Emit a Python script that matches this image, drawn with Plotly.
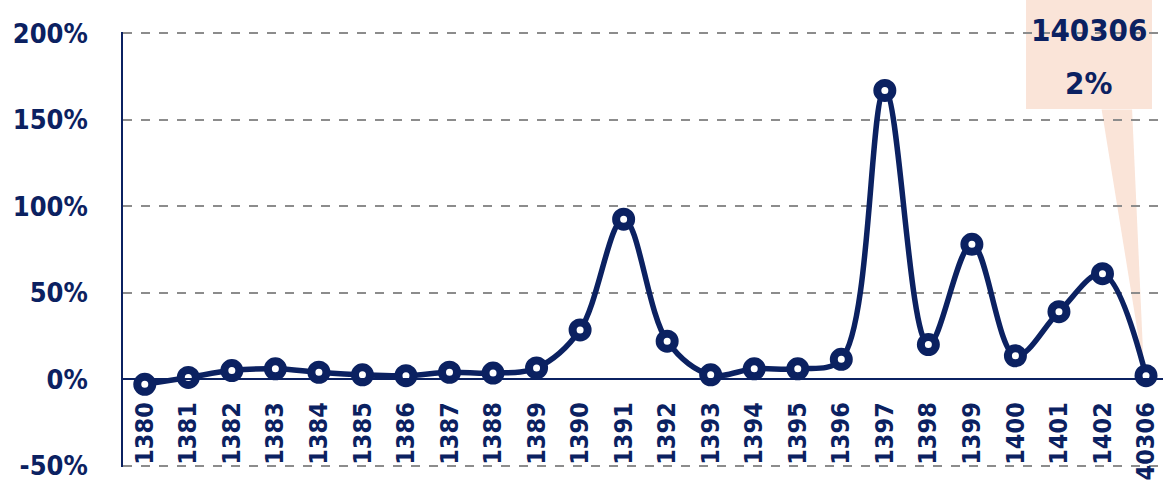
import plotly.graph_objects as go

categories = ["1380", "1381", "1382", "1383", "1384", "1385", "1386", "1387", "1388", "1389",
              "1390", "1391", "1392", "1393", "1394", "1395", "1396", "1397", "1398", "1399",
              "1400", "1401", "1402", "140306"]
values = [-3, 1, 5, 6, 4, 2.5, 2, 4, 3.5, 6.5,
          28.5, 92.5, 22, 2.5, 6, 6, 11.5, 167, 20, 78,
          13.5, 39, 61, 2]
y_ticks = [-50, 0, 50, 100, 150, 200]
y_tick_labels = ["-50%", "0%", "50%", "100%", "150%", "200%"]
callout_label = "140306"
callout_value = "2%"

NAVY = "#0b2161"
PEACH = "#fae4d8"
FONT = "DejaVu Sans Condensed, Liberation Sans Narrow, sans-serif"

x_idx = list(range(len(categories)))

fig = go.Figure()
fig.add_trace(go.Scatter(
    x=x_idx, y=values, mode="lines+markers",
    line=dict(color=NAVY, width=5.5, shape="spline", smoothing=1),
    marker=dict(size=15, color="white", line=dict(color=NAVY, width=8)),
    cliponaxis=False, showlegend=False,
))

last = len(categories) - 1
# callout pointer (triangle from box bottom to last point)
fig.add_shape(type="path", xref="x", yref="y", layer="below",
              path=f"M {last-1.02},156 L {last-0.32},156 L {last-0.05},{values[-1]+3} Z",
              fillcolor=PEACH, line=dict(width=0))
# callout box
fig.add_shape(type="rect", xref="paper", yref="paper", layer="below",
              x0=0.8683, x1=0.9894, y0=0.8230, y1=1.08,
              fillcolor=PEACH, line=dict(width=0))
fig.add_annotation(
    xref="paper", yref="paper", x=0.9288, y=1.0046, xanchor="center", yanchor="middle",
    text=f"<b>{callout_label}</b>", showarrow=False,
    font=dict(family=FONT, size=31, color=NAVY),
)
fig.add_annotation(
    xref="paper", yref="paper", x=0.9288, y=0.8828, xanchor="center", yanchor="middle",
    text=f"<b>{callout_value}</b>", showarrow=False,
    font=dict(family=FONT, size=31, color=NAVY),
)

fig.update_layout(
    width=1163, height=482,
    margin=dict(l=123, r=0, t=32, b=15),
    paper_bgcolor="white", plot_bgcolor="rgba(0,0,0,0)",
    font=dict(family=FONT, color=NAVY),
    xaxis=dict(
        tickmode="array", tickvals=x_idx, ticktext=[f"<b>{c}</b>" for c in categories],
        tickangle=-90, tickfont=dict(size=25, color=NAVY, family=FONT),
        range=[-0.5, last + 0.39], showgrid=False, zeroline=False,
        showline=True, linecolor=NAVY, linewidth=2, automargin=False,
        anchor="free", position=(0 - (-50.8)) / (200.8 - (-50.8)),
        ticks="", ticklabelstandoff=12, ticklabeloverflow="allow",
    ),
    yaxis=dict(
        range=[-50.8, 200.8], tickvals=y_ticks, ticktext=[f"<b>{t}</b>" for t in y_tick_labels],
        tickfont=dict(size=27, color=NAVY, family=FONT), automargin=False,
        showgrid=True, gridcolor="#8c8c8c", griddash="dash", gridwidth=2,
        zeroline=False, showline=True, linecolor=NAVY, linewidth=1.5,
        ticks="", ticklabelstandoff=28, ticklabeloverflow="allow",
    ),
)

fig.write_html("out.html", config={"displayModeBar": False},
               post_script="document.body.style.margin='0';document.body.style.overflow='hidden';")
